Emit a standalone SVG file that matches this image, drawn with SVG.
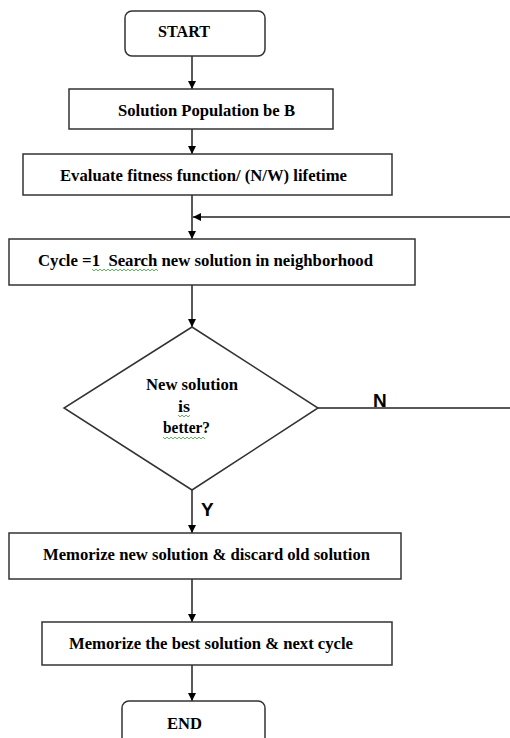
<svg xmlns="http://www.w3.org/2000/svg" width="510" height="738" viewBox="0 0 510 738">
<style>
.box{fill:#fff;stroke:#333;stroke-width:1.5}
.t{font-family:"Liberation Serif",serif;font-weight:bold;font-size:17.5px;fill:#000}
.lbl{font-family:"Liberation Sans",Arial,sans-serif;font-weight:bold;font-size:19px;fill:#000}
.c{stroke:#222;stroke-width:1.5;fill:none}
.sq{stroke:#3a3;stroke-width:0.8;fill:none}
</style>
<defs>
<marker id="ah" viewBox="0 0 10 10" refX="10" refY="5" markerWidth="8" markerHeight="8" markerUnits="userSpaceOnUse" orient="auto">
<path d="M0,0 L10,5 L0,10 z" fill="#000"/>
</marker>
</defs>
<rect width="510" height="738" fill="#fff"/>
<g id="connectors">
<line class="c" x1="192" y1="56" x2="192" y2="89" marker-end="url(#ah)"/>
<line class="c" x1="192" y1="129" x2="192" y2="154" marker-end="url(#ah)"/>
<line class="c" x1="192" y1="195" x2="192" y2="239" marker-end="url(#ah)"/>
<line class="c" x1="510" y1="217" x2="193" y2="217" marker-end="url(#ah)"/>
<line class="c" x1="192" y1="285" x2="192" y2="327" marker-end="url(#ah)"/>
<line class="c" x1="318" y1="408" x2="510" y2="408"/>
<line class="c" x1="192" y1="490" x2="192" y2="533" marker-end="url(#ah)"/>
<line class="c" x1="192" y1="579" x2="192" y2="622" marker-end="url(#ah)"/>
<line class="c" x1="192" y1="665" x2="192" y2="701" marker-end="url(#ah)"/>
<text class="lbl" x="373" y="407">N</text>
<text class="lbl" x="201" y="516">Y</text>
</g>
<g id="start">
<rect class="box" x="125" y="11" width="140" height="45" rx="7"/>
<text class="t" x="158" y="37" textLength="52" lengthAdjust="spacingAndGlyphs">START</text>
</g>
<g id="population">
<rect class="box" x="69" y="89" width="264" height="40"/>
<text class="t" x="118" y="116" textLength="177" lengthAdjust="spacingAndGlyphs">Solution Population be B</text>
</g>
<g id="evaluate">
<rect class="box" x="23" y="154" width="369" height="41"/>
<text class="t" x="60" y="181" textLength="287" lengthAdjust="spacingAndGlyphs">Evaluate fitness function/ (N/W) lifetime</text>
</g>
<g id="cycle">
<rect class="box" x="9" y="239" width="406" height="46"/>
<text class="t" x="38" y="266" textLength="335" lengthAdjust="spacingAndGlyphs" style="white-space:pre">Cycle =1  Search new solution in neighborhood</text>
<path class="sq" d="M92,269 l2,2 l2,-2 l2,2 l2,-2 l2,2 l2,-2 l2,2 l2,-2 l2,2 l2,-2 l2,2 l2,-2 l2,2 l2,-2 l2,2 l2,-2 l2,2 l2,-2 l2,2 l2,-2 l2,2 l2,-2 l2,2 l2,-2 l2,2 l2,-2 l2,2 l2,-2 l2,2 l2,-2 l2,2 l2,-2 l2,2"/>
</g>
<g id="decision">
<polygon class="box" points="192,327 318,408 192,490 64,408"/>
<text class="t" x="146" y="390" textLength="92" lengthAdjust="spacingAndGlyphs">New solution</text>
<text class="t" x="178" y="412" textLength="12" lengthAdjust="spacingAndGlyphs">is</text>
<text class="t" x="163" y="433" textLength="47" lengthAdjust="spacingAndGlyphs">better?</text>
<path class="sq" d="M178,415 l2,2 l2,-2 l2,2 l2,-2 l2,2 l2,-2"/>
<path class="sq" d="M163,437 l2,2 l2,-2 l2,2 l2,-2 l2,2 l2,-2 l2,2 l2,-2 l2,2 l2,-2 l2,2 l2,-2 l2,2 l2,-2 l2,2 l2,-2 l2,2 l2,-2 l2,2 l2,-2 l2,2"/>
</g>
<g id="memorize">
<rect class="box" x="9" y="533" width="392" height="46"/>
<text class="t" x="43" y="560" textLength="327" lengthAdjust="spacingAndGlyphs">Memorize new solution &amp; discard old solution</text>
</g>
<g id="best">
<rect class="box" x="42" y="622" width="350" height="43"/>
<text class="t" x="69" y="649" textLength="284" lengthAdjust="spacingAndGlyphs">Memorize the best solution &amp; next cycle</text>
</g>
<g id="end">
<rect class="box" x="122" y="701" width="143" height="50" rx="7"/>
<text class="t" x="167" y="729" textLength="35" lengthAdjust="spacingAndGlyphs">END</text>
</g>
</svg>
